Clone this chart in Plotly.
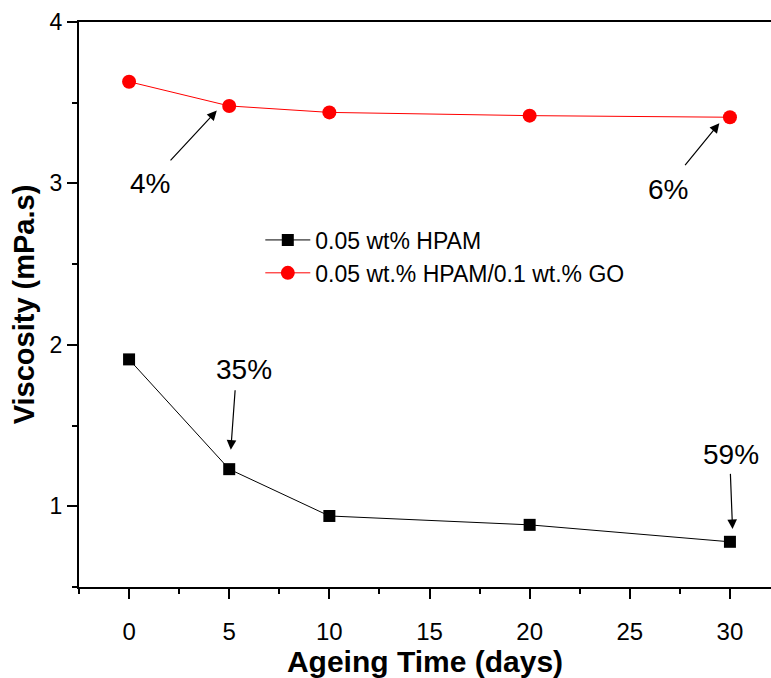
import plotly.graph_objects as go

days = [0, 5, 10, 20, 30]
hpam = [1.91, 1.23, 0.94, 0.885, 0.78]
hpam_go = [3.63, 3.48, 3.44, 3.42, 3.41]

name_hpam = "0.05 wt% HPAM"
name_go = "0.05 wt.% HPAM/0.1 wt.% GO"

ann_text = ["4%", "6%", "35%", "59%"]
ann_text_x = [1.05, 26.9, 5.72, 30.05]
ann_text_y = [3.0, 2.96, 1.845, 1.32]
ann_tail_x = [2.0, 27.7, 5.3, 30.02]
ann_tail_y = [3.133, 3.104, 1.728, 1.21]
ann_head_x = [4.38, 29.47, 5.08, 30.13]
ann_head_y = [3.451, 3.373, 1.35, 0.859]

FONT = "Arial, Liberation Sans, sans-serif"

fig = go.Figure()
fig.add_trace(go.Scatter(x=days, y=hpam, name=name_hpam, mode="lines+markers",
                         line=dict(color="black", width=1),
                         marker=dict(symbol="square", size=12, color="black")))
fig.add_trace(go.Scatter(x=days, y=hpam_go, name=name_go, mode="lines+markers",
                         line=dict(color="red", width=1),
                         marker=dict(symbol="circle", size=14, color="red")))

anns = []
for t, tx, ty in zip(ann_text, ann_text_x, ann_text_y):
    anns.append(dict(x=tx, y=ty, xref="x", yref="y", text=t, showarrow=False,
                     font=dict(family=FONT, size=28, color="black")))
for hx, hy, sx, sy in zip(ann_head_x, ann_head_y, ann_tail_x, ann_tail_y):
    anns.append(dict(x=hx, y=hy, ax=sx, ay=sy, xref="x", yref="y", axref="x", ayref="y",
                     text="", showarrow=True, arrowhead=2, arrowsize=1.6,
                     arrowwidth=1.2, arrowcolor="black", standoff=0, startstandoff=0))

fig.update_layout(
    width=771, height=678,
    margin=dict(l=79, r=0, t=22, b=91),
    paper_bgcolor="white", plot_bgcolor="white",
    font=dict(family=FONT, color="black"),
    showlegend=True,
    legend=dict(x=0.262, y=0.585, xanchor="left", yanchor="middle",
                font=dict(family=FONT, size=23, color="black"),
                bgcolor="rgba(0,0,0,0)", tracegroupgap=0, itemwidth=45),
    annotations=anns,
    xaxis=dict(range=[-2.5, 32.05], tickvals=[0, 5, 10, 15, 20, 25, 30],
               showgrid=False, zeroline=False,
               showline=True, linecolor="black", linewidth=2, mirror=True,
               ticks="outside", ticklen=10, tickwidth=2, tickcolor="black",
               minor=dict(dtick=2.5, tick0=0, ticks="outside", ticklen=5, tickwidth=2, tickcolor="black"),
               tickfont=dict(family=FONT, size=24), ticklabelstandoff=12,
               title=dict(text="<b>Ageing Time (days)</b>", font=dict(family=FONT, size=30), standoff=6)),
    yaxis=dict(range=[0.5, 4], tickvals=[1, 2, 3, 4],
               showgrid=False, zeroline=False,
               showline=True, linecolor="black", linewidth=2, mirror=False,
               ticks="outside", ticklen=10, tickwidth=2, tickcolor="black",
               minor=dict(dtick=0.5, tick0=0, ticks="outside", ticklen=5, tickwidth=2, tickcolor="black"),
               tickfont=dict(family=FONT, size=23),
               title=dict(text="<b>Viscosity (mPa.s)</b>", font=dict(family=FONT, size=29), standoff=6)),
)

fig.write_html("out.html")
